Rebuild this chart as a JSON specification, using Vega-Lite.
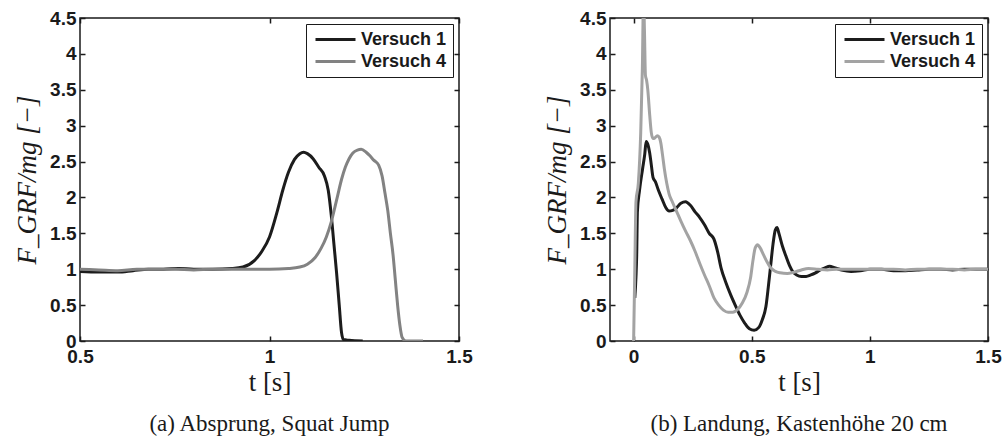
{
  "$schema": "https://vega.github.io/schema/vega-lite/v6.json",
  "background": "white",
  "padding": {"left": 12, "top": -5, "right": 5, "bottom": 5},
  "spacing": 69,
  "datasets": {
    "a": [
      {"t":0.5,"f":0.97,"s":"Versuch 1"},{"t":0.55,"f":0.96,"s":"Versuch 1"},{"t":0.6,"f":0.96,"s":"Versuch 1"},{"t":0.64,"f":0.98,"s":"Versuch 1"},{"t":0.68,"f":1.0,"s":"Versuch 1"},{"t":0.72,"f":1.0,"s":"Versuch 1"},{"t":0.76,"f":1.01,"s":"Versuch 1"},{"t":0.8,"f":1.0,"s":"Versuch 1"},{"t":0.85,"f":1.0,"s":"Versuch 1"},{"t":0.9,"f":1.01,"s":"Versuch 1"},{"t":0.93,"f":1.03,"s":"Versuch 1"},{"t":0.96,"f":1.12,"s":"Versuch 1"},{"t":0.98,"f":1.25,"s":"Versuch 1"},{"t":1.0,"f":1.45,"s":"Versuch 1"},{"t":1.02,"f":1.8,"s":"Versuch 1"},{"t":1.035,"f":2.1,"s":"Versuch 1"},{"t":1.05,"f":2.35,"s":"Versuch 1"},{"t":1.066,"f":2.53,"s":"Versuch 1"},{"t":1.08,"f":2.61,"s":"Versuch 1"},{"t":1.09,"f":2.63,"s":"Versuch 1"},{"t":1.1,"f":2.61,"s":"Versuch 1"},{"t":1.115,"f":2.54,"s":"Versuch 1"},{"t":1.13,"f":2.42,"s":"Versuch 1"},{"t":1.145,"f":2.3,"s":"Versuch 1"},{"t":1.155,"f":2.1,"s":"Versuch 1"},{"t":1.163,"f":1.75,"s":"Versuch 1"},{"t":1.17,"f":1.35,"s":"Versuch 1"},{"t":1.177,"f":0.95,"s":"Versuch 1"},{"t":1.184,"f":0.5,"s":"Versuch 1"},{"t":1.19,"f":0.12,"s":"Versuch 1"},{"t":1.195,"f":0.02,"s":"Versuch 1"},{"t":1.21,"f":0.01,"s":"Versuch 1"},{"t":1.246,"f":0.0,"s":"Versuch 1"},
      {"t":0.5,"f":1.0,"s":"Versuch 4"},{"t":0.55,"f":0.99,"s":"Versuch 4"},{"t":0.6,"f":0.98,"s":"Versuch 4"},{"t":0.65,"f":1.0,"s":"Versuch 4"},{"t":0.7,"f":1.0,"s":"Versuch 4"},{"t":0.75,"f":1.0,"s":"Versuch 4"},{"t":0.8,"f":0.99,"s":"Versuch 4"},{"t":0.85,"f":1.0,"s":"Versuch 4"},{"t":0.9,"f":1.0,"s":"Versuch 4"},{"t":0.95,"f":1.0,"s":"Versuch 4"},{"t":1.0,"f":1.0,"s":"Versuch 4"},{"t":1.05,"f":1.01,"s":"Versuch 4"},{"t":1.08,"f":1.03,"s":"Versuch 4"},{"t":1.1,"f":1.07,"s":"Versuch 4"},{"t":1.12,"f":1.16,"s":"Versuch 4"},{"t":1.136,"f":1.29,"s":"Versuch 4"},{"t":1.15,"f":1.45,"s":"Versuch 4"},{"t":1.163,"f":1.66,"s":"Versuch 4"},{"t":1.172,"f":1.85,"s":"Versuch 4"},{"t":1.18,"f":2.03,"s":"Versuch 4"},{"t":1.19,"f":2.25,"s":"Versuch 4"},{"t":1.2,"f":2.42,"s":"Versuch 4"},{"t":1.21,"f":2.54,"s":"Versuch 4"},{"t":1.22,"f":2.62,"s":"Versuch 4"},{"t":1.232,"f":2.66,"s":"Versuch 4"},{"t":1.242,"f":2.67,"s":"Versuch 4"},{"t":1.255,"f":2.63,"s":"Versuch 4"},{"t":1.265,"f":2.58,"s":"Versuch 4"},{"t":1.275,"f":2.52,"s":"Versuch 4"},{"t":1.288,"f":2.45,"s":"Versuch 4"},{"t":1.297,"f":2.3,"s":"Versuch 4"},{"t":1.305,"f":2.05,"s":"Versuch 4"},{"t":1.312,"f":1.82,"s":"Versuch 4"},{"t":1.319,"f":1.5,"s":"Versuch 4"},{"t":1.326,"f":1.2,"s":"Versuch 4"},{"t":1.332,"f":0.85,"s":"Versuch 4"},{"t":1.338,"f":0.5,"s":"Versuch 4"},{"t":1.344,"f":0.22,"s":"Versuch 4"},{"t":1.35,"f":0.05,"s":"Versuch 4"},{"t":1.36,"f":0.0,"s":"Versuch 4"},{"t":1.405,"f":0.0,"s":"Versuch 4"}
    ],
    "b": [
      {"t":0.005,"f":0.6,"s":"Versuch 1"},{"t":0.01,"f":0.9,"s":"Versuch 1"},{"t":0.013,"f":1.2,"s":"Versuch 1"},{"t":0.016,"f":1.8,"s":"Versuch 1"},{"t":0.025,"f":2.1,"s":"Versuch 1"},{"t":0.038,"f":2.4,"s":"Versuch 1"},{"t":0.047,"f":2.6,"s":"Versuch 1"},{"t":0.053,"f":2.78,"s":"Versuch 1"},{"t":0.06,"f":2.74,"s":"Versuch 1"},{"t":0.068,"f":2.62,"s":"Versuch 1"},{"t":0.075,"f":2.45,"s":"Versuch 1"},{"t":0.082,"f":2.28,"s":"Versuch 1"},{"t":0.092,"f":2.22,"s":"Versuch 1"},{"t":0.105,"f":2.1,"s":"Versuch 1"},{"t":0.12,"f":1.98,"s":"Versuch 1"},{"t":0.136,"f":1.86,"s":"Versuch 1"},{"t":0.15,"f":1.81,"s":"Versuch 1"},{"t":0.165,"f":1.82,"s":"Versuch 1"},{"t":0.18,"f":1.85,"s":"Versuch 1"},{"t":0.2,"f":1.92,"s":"Versuch 1"},{"t":0.22,"f":1.94,"s":"Versuch 1"},{"t":0.24,"f":1.89,"s":"Versuch 1"},{"t":0.26,"f":1.8,"s":"Versuch 1"},{"t":0.28,"f":1.72,"s":"Versuch 1"},{"t":0.3,"f":1.62,"s":"Versuch 1"},{"t":0.32,"f":1.5,"s":"Versuch 1"},{"t":0.34,"f":1.42,"s":"Versuch 1"},{"t":0.355,"f":1.25,"s":"Versuch 1"},{"t":0.37,"f":1.02,"s":"Versuch 1"},{"t":0.39,"f":0.82,"s":"Versuch 1"},{"t":0.41,"f":0.65,"s":"Versuch 1"},{"t":0.43,"f":0.5,"s":"Versuch 1"},{"t":0.45,"f":0.36,"s":"Versuch 1"},{"t":0.47,"f":0.25,"s":"Versuch 1"},{"t":0.49,"f":0.17,"s":"Versuch 1"},{"t":0.51,"f":0.15,"s":"Versuch 1"},{"t":0.53,"f":0.19,"s":"Versuch 1"},{"t":0.545,"f":0.3,"s":"Versuch 1"},{"t":0.56,"f":0.48,"s":"Versuch 1"},{"t":0.57,"f":0.75,"s":"Versuch 1"},{"t":0.58,"f":1.05,"s":"Versuch 1"},{"t":0.59,"f":1.35,"s":"Versuch 1"},{"t":0.6,"f":1.55,"s":"Versuch 1"},{"t":0.607,"f":1.58,"s":"Versuch 1"},{"t":0.615,"f":1.5,"s":"Versuch 1"},{"t":0.63,"f":1.32,"s":"Versuch 1"},{"t":0.645,"f":1.18,"s":"Versuch 1"},{"t":0.66,"f":1.05,"s":"Versuch 1"},{"t":0.675,"f":0.96,"s":"Versuch 1"},{"t":0.69,"f":0.92,"s":"Versuch 1"},{"t":0.71,"f":0.9,"s":"Versuch 1"},{"t":0.73,"f":0.9,"s":"Versuch 1"},{"t":0.75,"f":0.92,"s":"Versuch 1"},{"t":0.77,"f":0.95,"s":"Versuch 1"},{"t":0.79,"f":0.99,"s":"Versuch 1"},{"t":0.81,"f":1.02,"s":"Versuch 1"},{"t":0.83,"f":1.04,"s":"Versuch 1"},{"t":0.85,"f":1.02,"s":"Versuch 1"},{"t":0.88,"f":0.99,"s":"Versuch 1"},{"t":0.92,"f":0.97,"s":"Versuch 1"},{"t":0.96,"f":0.98,"s":"Versuch 1"},{"t":1.0,"f":1.0,"s":"Versuch 1"},{"t":1.05,"f":1.0,"s":"Versuch 1"},{"t":1.1,"f":0.98,"s":"Versuch 1"},{"t":1.15,"f":0.98,"s":"Versuch 1"},{"t":1.2,"f":0.99,"s":"Versuch 1"},{"t":1.25,"f":1.0,"s":"Versuch 1"},{"t":1.3,"f":1.0,"s":"Versuch 1"},{"t":1.35,"f":0.99,"s":"Versuch 1"},{"t":1.4,"f":1.0,"s":"Versuch 1"},{"t":1.45,"f":1.0,"s":"Versuch 1"},{"t":1.5,"f":1.0,"s":"Versuch 1"},
      {"t":0.0,"f":0.0,"s":"Versuch 4"},{"t":0.005,"f":1.0,"s":"Versuch 4"},{"t":0.01,"f":1.94,"s":"Versuch 4"},{"t":0.02,"f":2.2,"s":"Versuch 4"},{"t":0.03,"f":2.9,"s":"Versuch 4"},{"t":0.037,"f":3.8,"s":"Versuch 4"},{"t":0.042,"f":4.8,"s":"Versuch 4"},{"t":0.046,"f":4.3,"s":"Versuch 4"},{"t":0.05,"f":3.7,"s":"Versuch 4"},{"t":0.055,"f":3.63,"s":"Versuch 4"},{"t":0.06,"f":3.5,"s":"Versuch 4"},{"t":0.068,"f":3.15,"s":"Versuch 4"},{"t":0.075,"f":2.9,"s":"Versuch 4"},{"t":0.082,"f":2.82,"s":"Versuch 4"},{"t":0.09,"f":2.83,"s":"Versuch 4"},{"t":0.1,"f":2.86,"s":"Versuch 4"},{"t":0.108,"f":2.84,"s":"Versuch 4"},{"t":0.115,"f":2.76,"s":"Versuch 4"},{"t":0.122,"f":2.6,"s":"Versuch 4"},{"t":0.13,"f":2.4,"s":"Versuch 4"},{"t":0.14,"f":2.2,"s":"Versuch 4"},{"t":0.15,"f":2.05,"s":"Versuch 4"},{"t":0.165,"f":1.93,"s":"Versuch 4"},{"t":0.18,"f":1.82,"s":"Versuch 4"},{"t":0.2,"f":1.67,"s":"Versuch 4"},{"t":0.22,"f":1.53,"s":"Versuch 4"},{"t":0.24,"f":1.4,"s":"Versuch 4"},{"t":0.26,"f":1.25,"s":"Versuch 4"},{"t":0.28,"f":1.08,"s":"Versuch 4"},{"t":0.3,"f":0.92,"s":"Versuch 4"},{"t":0.32,"f":0.77,"s":"Versuch 4"},{"t":0.34,"f":0.6,"s":"Versuch 4"},{"t":0.36,"f":0.5,"s":"Versuch 4"},{"t":0.38,"f":0.43,"s":"Versuch 4"},{"t":0.4,"f":0.4,"s":"Versuch 4"},{"t":0.42,"f":0.4,"s":"Versuch 4"},{"t":0.44,"f":0.44,"s":"Versuch 4"},{"t":0.46,"f":0.53,"s":"Versuch 4"},{"t":0.48,"f":0.68,"s":"Versuch 4"},{"t":0.495,"f":0.88,"s":"Versuch 4"},{"t":0.505,"f":1.12,"s":"Versuch 4"},{"t":0.515,"f":1.3,"s":"Versuch 4"},{"t":0.525,"f":1.34,"s":"Versuch 4"},{"t":0.535,"f":1.3,"s":"Versuch 4"},{"t":0.55,"f":1.2,"s":"Versuch 4"},{"t":0.565,"f":1.1,"s":"Versuch 4"},{"t":0.58,"f":1.02,"s":"Versuch 4"},{"t":0.6,"f":0.97,"s":"Versuch 4"},{"t":0.62,"f":0.95,"s":"Versuch 4"},{"t":0.65,"f":0.94,"s":"Versuch 4"},{"t":0.68,"f":0.96,"s":"Versuch 4"},{"t":0.71,"f":0.99,"s":"Versuch 4"},{"t":0.74,"f":1.01,"s":"Versuch 4"},{"t":0.78,"f":1.0,"s":"Versuch 4"},{"t":0.82,"f":0.99,"s":"Versuch 4"},{"t":0.86,"f":1.0,"s":"Versuch 4"},{"t":0.9,"f":1.0,"s":"Versuch 4"},{"t":0.95,"f":1.0,"s":"Versuch 4"},{"t":1.0,"f":1.0,"s":"Versuch 4"},{"t":1.05,"f":1.0,"s":"Versuch 4"},{"t":1.1,"f":1.0,"s":"Versuch 4"},{"t":1.15,"f":0.99,"s":"Versuch 4"},{"t":1.2,"f":1.0,"s":"Versuch 4"},{"t":1.25,"f":1.0,"s":"Versuch 4"},{"t":1.3,"f":1.0,"s":"Versuch 4"},{"t":1.35,"f":1.0,"s":"Versuch 4"},{"t":1.4,"f":0.99,"s":"Versuch 4"},{"t":1.45,"f":1.0,"s":"Versuch 4"},{"t":1.5,"f":1.0,"s":"Versuch 4"}
    ]
  },
  "resolve": {"scale": {"color": "independent"}, "legend": {"color": "independent"}},
  "hconcat": [
    {
      "width": 379,
      "height": 323,
      "data": {"name": "a"},
      "title": {"text": "(a) Absprung, Squat Jump", "orient": "bottom", "offset": 18},
      "layer": [
        {
          "mark": {"type": "line", "strokeWidth": 3, "clip": true, "interpolate": "monotone"},
          "encoding": {
            "x": {"field": "t", "type": "quantitative", "scale": {"domain": [0.5, 1.5], "nice": false, "zero": false},
                  "axis": {"values": [0.5, 1, 1.5], "title": "t [s]"}},
            "y": {"field": "f", "type": "quantitative", "scale": {"domain": [0, 4.5], "nice": false},
                  "axis": {"values": [0,0.5,1,1.5,2,2.5,3,3.5,4,4.5], "title": "F_GRF/mg [−]"}},
            "color": {"field": "s", "type": "nominal", "scale": {"domain": ["Versuch 1", "Versuch 4"], "range": ["#1c1c1c", "#828282"]},
                      "legend": {"title": null, "orient": "top-right", "offset": 6}}
          }
        },
        {
          "mark": {"type": "line", "opacity": 0},
          "encoding": {
            "x": {"field": "t", "type": "quantitative", "axis": {"orient": "top", "values": [0.5, 1, 1.5], "labels": false, "title": null, "minExtent": 0, "maxExtent": 0, "labelPadding": 0}},
            "y": {"field": "f", "type": "quantitative", "axis": {"orient": "right", "values": [0,0.5,1,1.5,2,2.5,3,3.5,4,4.5], "labels": false, "title": null, "minExtent": 0, "maxExtent": 0, "labelPadding": 0}}
          }
        }
      ],
      "resolve": {"axis": {"x": "independent", "y": "independent"}}
    },
    {
      "width": 378,
      "height": 323,
      "data": {"name": "b"},
      "title": {"text": "(b) Landung, Kastenhöhe 20 cm", "orient": "bottom", "offset": 18},
      "layer": [
        {
          "mark": {"type": "line", "strokeWidth": 3, "clip": true, "interpolate": "monotone"},
          "encoding": {
            "x": {"field": "t", "type": "quantitative", "scale": {"domain": [-0.1, 1.5], "nice": false, "zero": false},
                  "axis": {"values": [0, 0.5, 1, 1.5], "title": "t [s]"}},
            "y": {"field": "f", "type": "quantitative", "scale": {"domain": [0, 4.5], "nice": false},
                  "axis": {"values": [0,0.5,1,1.5,2,2.5,3,3.5,4,4.5], "title": "F_GRF/mg [−]"}},
            "color": {"field": "s", "type": "nominal", "scale": {"domain": ["Versuch 1", "Versuch 4"], "range": ["#1c1c1c", "#a3a3a3"]},
                      "legend": {"title": null, "orient": "top-right", "offset": 6}}
          }
        },
        {
          "mark": {"type": "line", "opacity": 0},
          "encoding": {
            "x": {"field": "t", "type": "quantitative", "axis": {"orient": "top", "values": [0, 0.5, 1, 1.5], "labels": false, "title": null, "minExtent": 0, "maxExtent": 0, "labelPadding": 0}},
            "y": {"field": "f", "type": "quantitative", "axis": {"orient": "right", "values": [0,0.5,1,1.5,2,2.5,3,3.5,4,4.5], "labels": false, "title": null, "minExtent": 0, "maxExtent": 0, "labelPadding": 0}}
          }
        }
      ],
      "resolve": {"axis": {"x": "independent", "y": "independent"}}
    }
  ],
  "config": {
    "view": {"stroke": "#1a1a1a", "strokeWidth": 1.5},
    "axis": {
      "grid": false,
      "domain": false,
      "format": "~g",
      "tickSize": -5,
      "tickColor": "#1a1a1a",
      "tickWidth": 1.5,
      "labelFont": "Liberation Sans",
      "labelFontWeight": "bold",
      "labelFontSize": 19,
      "labelColor": "#1a1a1a",
      "labelOverlap": false,
      "labelFlush": false,
      "titleFont": "Liberation Serif",
      "titleFontWeight": "normal",
      "titleFontSize": 27,
      "titleColor": "#1a1a1a"
    },
    "axisY": {"titleFontStyle": "italic", "titlePadding": 8, "labelPadding": 9},
    "axisX": {"titlePadding": 3, "labelPadding": 11},
    "legend": {
      "symbolType": "M-2.5,0H2.5",
      "symbolSize": 256,
      "symbolStrokeWidth": 3,
      "symbolOffset": 14,
      "labelOffset": 16,
      "labelFont": "Liberation Sans",
      "labelFontWeight": "bold",
      "labelFontSize": 18,
      "labelColor": "#1a1a1a",
      "strokeColor": "#1a1a1a",
      "fillColor": "white",
      "padding": 6,
      "rowPadding": 3,
      "cornerRadius": 0
    },
    "title": {"font": "Liberation Serif", "fontSize": 23, "fontWeight": "normal", "color": "#1a1a1a"}
  }
}
